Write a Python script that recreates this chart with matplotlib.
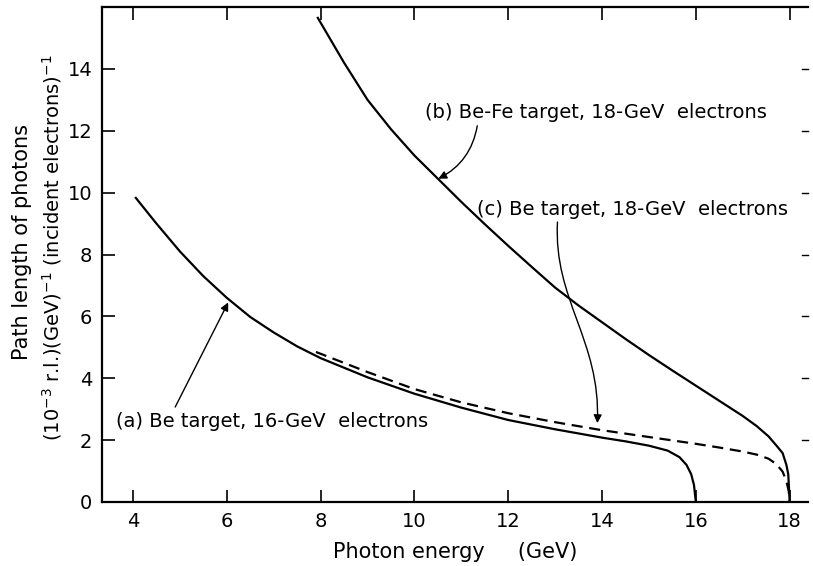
import matplotlib
matplotlib.use("Agg")
import matplotlib.pyplot as plt
from matplotlib.patches import FancyArrowPatch
from matplotlib.path import Path

# (a) Be target, 16-GeV electrons
energy_a = [4.06, 4.5, 5.0, 5.5, 6.0, 6.5, 7.0, 7.5, 8.0, 9.0, 10.0, 11.0,
            12.0, 13.0, 14.0, 14.5, 15.0, 15.4, 15.65, 15.8, 15.9, 15.96, 16.0]
path_a = [9.83, 9.0, 8.1, 7.3, 6.6, 5.98, 5.48, 5.03, 4.65, 4.03, 3.5, 3.05,
          2.65, 2.35, 2.08, 1.96, 1.82, 1.66, 1.45, 1.2, 0.9, 0.55, 0.0]

# (b) Be-Fe target, 18-GeV electrons
energy_b = [7.94, 8.5, 9.0, 9.5, 10.0, 10.5, 11.0, 11.5, 12.0, 12.5, 13.0,
            13.5, 14.0, 14.5, 15.0, 15.5, 16.0, 16.5, 17.0, 17.3, 17.55,
            17.72, 17.85, 17.93, 17.97, 18.0]
path_b = [15.65, 14.2, 13.0, 12.05, 11.2, 10.45, 9.7, 8.98, 8.28, 7.6, 6.93,
          6.35, 5.81, 5.27, 4.75, 4.25, 3.76, 3.27, 2.78, 2.45, 2.12,
          1.82, 1.58, 1.2, 0.9, 0.0]

# (c) Be target, 18-GeV electrons (dashed)
energy_c = [7.9, 9.0, 10.0, 11.0, 12.0, 13.0, 14.0, 15.0, 16.0, 16.5, 17.0,
            17.3, 17.55, 17.72, 17.85, 17.93, 17.98, 18.0]
path_c = [4.85, 4.2, 3.65, 3.22, 2.87, 2.58, 2.32, 2.1, 1.88, 1.76, 1.63,
          1.53, 1.4, 1.22, 0.98, 0.68, 0.35, 0.0]

x_ticks = [4, 6, 8, 10, 12, 14, 16, 18]
y_ticks = [0, 2, 4, 6, 8, 10, 12, 14]

plt.rcParams['font.family'] = ['DejaVu Sans']

fig = plt.figure(figsize=(8.13, 5.66), dpi=100)
ax = fig.add_axes([0.1255, 0.1131, 0.9938 - 0.1255, 0.9876 - 0.1131])

lw = 1.6
ax.plot(energy_a, path_a, color='black', lw=lw)
ax.plot(energy_b, path_b, color='black', lw=lw)
ax.plot(energy_c, path_c, color='black', lw=lw, dashes=(5, 3))

ax.set_xlim(3.34, 18.39)
ax.set_ylim(0, 16.0)

ax.set_xticks(x_ticks)
ax.set_yticks(y_ticks)
ax.tick_params(direction='in', length=9, width=1.2, labelsize=14,
               top=True, right=False)
ax.tick_params(axis='x', pad=7)
ax.tick_params(axis='y', pad=7)
# short ticks on the open right side
ax.spines['right'].set_visible(False)
for yt in y_ticks[1:]:
    ax.plot([18.39 - 0.13, 18.39], [yt, yt], color='black', lw=1.0,
            clip_on=False)
for s in ['left', 'bottom', 'top']:
    ax.spines[s].set_linewidth(1.6)

ax.set_xlabel("Photon energy     (GeV)", fontsize=15, labelpad=8)
fig.text(0.027, 0.572, "Path length of photons", rotation=90,
         ha='center', va='center', fontsize=15)
fig.text(0.064, 0.562,
         "(10$^{-3}$ r.l.)(GeV)$^{-1}$ (incident electrons)$^{-1}$",
         rotation=90, ha='center', va='center', fontsize=14)

# labels
txt = dict(fontsize=14, va='center', ha='left')
ax.text(10.23, 12.58, "(b) Be-Fe target, 18-GeV  electrons", **txt)
ax.text(11.34, 9.44, "(c) Be target, 18-GeV  electrons", **txt)
ax.text(3.64, 2.59, "(a) Be target, 16-GeV  electrons", **txt)

arrow_kw = dict(arrowstyle='-|>', mutation_scale=12, color='black', lw=1.0,
                shrinkA=0, shrinkB=0)
ax.add_patch(FancyArrowPatch((4.90, 3.07), (6.03, 6.45), **arrow_kw))
ax.add_patch(FancyArrowPatch((11.34, 12.16), (10.51, 10.45),
                             connectionstyle="arc3,rad=-0.25", **arrow_kw))
c_path = Path([(13.05, 9.05), (12.96, 6.53), (13.97, 5.24), (13.90, 2.55)],
              [Path.MOVETO, Path.CURVE4, Path.CURVE4, Path.CURVE4])
ax.add_patch(FancyArrowPatch(path=c_path, **arrow_kw))

fig.savefig("out.png", dpi=100)
